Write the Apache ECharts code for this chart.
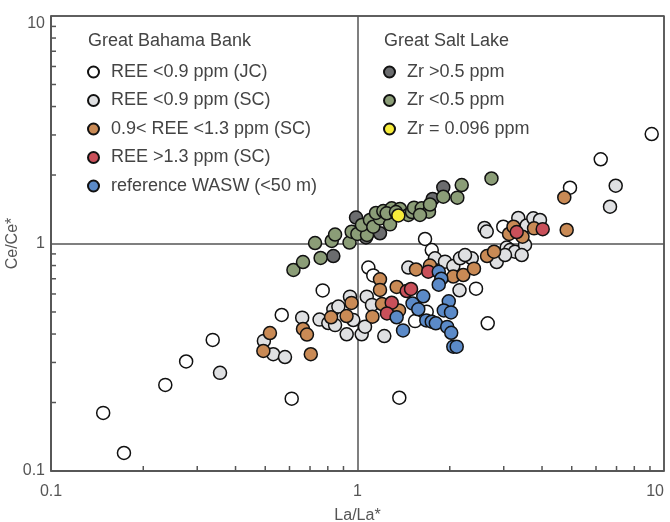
<!DOCTYPE html>
<html>
<head>
<meta charset="utf-8">
<script src="https://cdn.jsdelivr.net/npm/echarts@6/dist/echarts.min.js"></script>
<style>
  html, body { margin: 0; padding: 0; background: #fff; }
  #chart { width: 670px; height: 522px; }
</style>
</head>
<body>
<div id="chart"></div>
<script>
// La/La* vs Ce/Ce*, pairs
const reeJC = [
  [0.148, 0.180], [0.173, 0.120], [0.236, 0.239], [0.276, 0.303], [0.337, 0.377],
  [0.566, 0.485], [0.610, 0.208], [0.770, 0.622], [1.085, 0.784], [1.126, 0.724],
  [1.661, 1.047], [1.747, 0.936], [1.369, 0.210], [1.541, 0.456], [1.682, 0.501],
  [2.436, 0.633], [2.660, 0.446], [2.990, 1.185], [4.935, 1.759], [6.217, 2.345],
  [9.118, 3.029]
]
const reeSC = [
  [0.356, 0.270], [0.495, 0.373], [0.531, 0.326], [0.580, 0.317], [0.660, 0.472],
  [0.752, 0.463], [0.803, 0.447], [0.845, 0.438], [0.834, 0.514], [0.866, 0.528],
  [0.945, 0.584], [0.922, 0.399], [0.969, 0.461], [1.032, 0.399], [1.058, 0.431],
  [1.072, 0.584], [1.223, 0.392], [1.115, 0.537], [1.465, 0.784], [1.790, 0.861],
  [1.930, 0.832], [2.054, 0.796], [2.160, 0.861], [2.359, 0.861], [2.152, 0.623],
  [2.243, 0.890], [2.597, 1.170], [2.640, 1.129], [3.346, 1.295], [3.565, 1.200],
  [3.747, 1.291], [3.939, 1.269], [3.068, 0.960], [3.145, 0.936], [3.265, 0.920],
  [3.520, 0.985], [3.434, 0.890], [2.846, 0.829], [3.029, 0.890], [6.957, 1.795],
  [6.666, 1.451]
]
const reeMid = [
  [0.493, 0.337], [0.518, 0.404], [0.664, 0.421], [0.684, 0.398], [0.704, 0.326],
  [0.820, 0.474], [0.921, 0.480], [0.956, 0.548], [1.119, 0.477], [1.184, 0.696],
  [1.184, 0.625], [1.342, 0.644], [1.202, 0.542], [1.366, 0.508], [1.552, 0.769],
  [1.724, 0.800], [2.054, 0.716], [2.214, 0.727], [2.399, 0.775], [2.646, 0.881],
  [2.789, 0.920], [3.122, 1.101], [3.228, 1.185], [3.454, 1.071], [3.767, 1.166],
  [4.728, 1.593], [4.814, 1.147]
]
const reeHigh = [
  [3.307, 1.123], [4.020, 1.156], [1.702, 0.752], [1.447, 0.618], [1.495, 0.631],
  [1.293, 0.549], [1.248, 0.493]
]
const wasw = [
  [1.841, 0.751], [1.877, 0.700], [1.841, 0.659], [1.639, 0.586], [1.512, 0.545],
  [1.579, 0.514], [1.342, 0.474], [1.408, 0.415], [1.985, 0.557], [1.912, 0.508],
  [2.019, 0.498], [1.677, 0.459], [1.747, 0.453], [1.801, 0.446], [1.962, 0.430],
  [2.022, 0.405], [2.054, 0.352], [2.107, 0.352]
]
const zrHigh = [
  [0.834, 0.881], [0.989, 1.301], [1.184, 1.109], [1.066, 1.063], [1.759, 1.569],
  [1.905, 1.766]
]
const zrLow = [
  [0.618, 0.765], [0.664, 0.829], [0.758, 0.864], [0.727, 1.005], [0.824, 1.026],
  [0.845, 1.095], [0.942, 1.010], [0.957, 1.127], [0.999, 1.101], [1.074, 1.090],
  [1.034, 1.206], [1.098, 1.269], [1.126, 1.185], [1.184, 1.288], [1.149, 1.362],
  [1.214, 1.389], [1.277, 1.214], [1.293, 1.428], [1.376, 1.418], [1.465, 1.335],
  [1.506, 1.375], [1.529, 1.437], [1.620, 1.428], [1.711, 1.380], [1.724, 1.484],
  [1.905, 1.606], [2.117, 1.590], [2.188, 1.807], [2.736, 1.931], [1.245, 1.358],
  [1.335, 1.375], [1.599, 1.335]
]
const zrLowest = [[1.359, 1.328]]

const minorTicks = [0.2, 0.3, 0.4, 0.5, 0.6, 0.7, 0.8, 0.9, 2, 3, 4, 5, 6, 7, 8, 9]

const font = "'Liberation Sans', Arial, sans-serif"
const axisColor = '#555'

const chart = echarts.init(document.getElementById('chart'))

const scatter = (name, data, color) => ({
  name,
  type: 'scatter',
  data,
  symbol: 'circle',
  symbolSize: 13,
  itemStyle: { color, borderColor: '#111', borderWidth: 1.5, opacity: 1 },
  emphasis: { disabled: true }
})

// short inward ticks at 2..9 of each decade
const tickSeries = (horizontal) => ({
  type: 'custom',
  silent: true,
  clip: false,
  data: minorTicks.map(v => horizontal ? [v, 0.1] : [0.1, v]),
  renderItem: (params, api) => {
    const p = api.coord([api.value(0), api.value(1)])
    return {
      type: 'line',
      shape: horizontal
        ? { x1: p[0], y1: p[1], x2: p[0], y2: p[1] - 5 }
        : { x1: p[0], y1: p[1], x2: p[0] + 5, y2: p[1] },
      style: { stroke: axisColor, lineWidth: 1.5 }
    }
  }
})

const axisCommon = {
  type: 'log',
  logBase: 10,
  min: 0.1,
  max: 10,
  nameLocation: 'middle',
  nameMoveOverlap: false,
  nameTextStyle: { fontFamily: font, fontSize: 16, color: axisColor },
  axisLine: { show: true, lineStyle: { color: axisColor, width: 1.5 } },
  axisTick: { show: false },
  splitLine: { show: true, lineStyle: { color: axisColor, width: 1.5 } },
  axisLabel: { fontFamily: font, fontSize: 16, color: axisColor }
}

const legendCommon = {
  orient: 'vertical',
  icon: 'circle',
  itemWidth: 11,
  itemHeight: 11,
  itemGap: 10.5,
  selectedMode: false,
  textStyle: { fontFamily: font, fontSize: 18, color: '#444', padding: [0, 0, 0, 7] }
}

chart.setOption({
  animation: false,
  grid: {
    left: 51, right: 6, top: 16, bottom: 51,
    outerBoundsMode: 'none', containLabel: false,
    show: true, borderColor: axisColor, borderWidth: 1.5
  },
  xAxis: {
    ...axisCommon, name: 'La/La*', nameGap: 37,
    axisLabel: { ...axisCommon.axisLabel, margin: 13, alignMaxLabel: 'right' }
  },
  yAxis: {
    ...axisCommon, name: 'Ce/Ce*', nameGap: 30,
    axisLabel: { ...axisCommon.axisLabel, margin: 6, verticalAlignMaxLabel: 'top' }
  },
  graphic: [
    { type: 'text', left: 88, top: 32, style: { text: 'Great Bahama Bank', font: `18px ${font}`, fill: '#444' } },
    { type: 'text', left: 384, top: 32, style: { text: 'Great Salt Lake', font: `18px ${font}`, fill: '#444' } }
  ],
  legend: [
    {
      ...legendCommon,
      left: 82,
      top: 58,
      data: ['REE <0.9 ppm (JC)', 'REE <0.9 ppm (SC)', '0.9< REE <1.3 ppm (SC)', 'REE >1.3 ppm (SC)', 'reference WASW (<50 m)']
    },
    {
      ...legendCommon,
      left: 378,
      top: 58,
      data: ['Zr >0.5 ppm', 'Zr <0.5 ppm', 'Zr = 0.096 ppm']
    }
  ],
  series: [
    scatter('REE <0.9 ppm (JC)', reeJC, '#ffffff'),
    scatter('REE <0.9 ppm (SC)', reeSC, '#dfe0e2'),
    scatter('0.9< REE <1.3 ppm (SC)', reeMid, '#c98a55'),
    scatter('REE >1.3 ppm (SC)', reeHigh, '#c9505a'),
    scatter('reference WASW (<50 m)', wasw, '#5b8ac8'),
    scatter('Zr >0.5 ppm', zrHigh, '#6b6c6e'),
    scatter('Zr <0.5 ppm', zrLow, '#8b9d77'),
    scatter('Zr = 0.096 ppm', zrLowest, '#f7ec3a'),
    tickSeries(true),
    tickSeries(false)
  ]
})
</script>
</body>
</html>
